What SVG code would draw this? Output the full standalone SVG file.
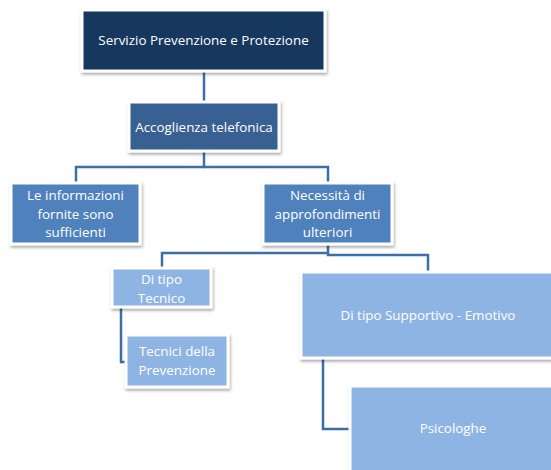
<svg xmlns="http://www.w3.org/2000/svg" width="551" height="470" viewBox="0 0 551 470">
<style>
.box{stroke:#ffffff;stroke-width:3;filter:url(#sh)}
.t{font-family:"Open Sans","Liberation Sans",sans-serif;font-size:13.4px;fill:#ffffff;text-anchor:middle;dominant-baseline:central}
.c{fill:none;stroke:#3e6ea6;stroke-width:2.5}
</style>
<defs>
<filter id="sh" x="-10%" y="-10%" width="130%" height="140%">
<feDropShadow dx="1" dy="2" stdDeviation="1.5" flood-color="#000" flood-opacity="0.35"/>
</filter>
</defs>
<rect width="551" height="470" fill="#ffffff"/>
<g id="connectors">
<path class="c" d="M204 71 V102"/>
<path class="c" d="M204 151 V167 H76 V183"/>
<path class="c" d="M204 167 H328 V183"/>
<path class="c" d="M328 244 V253 H162 V268"/>
<path class="c" d="M328 253 V255 H428 V272"/>
<path class="c" d="M121 307 V362 H126"/>
<path class="c" d="M323 358 V429 H350"/>
</g>
<g id="n1"><rect class="box" x="82" y="10" width="243" height="61" fill="#17375e"/><text class="t" x="203.5" y="40">Servizio Prevenzione e Protezione</text></g>
<g id="n2"><rect class="box" x="129" y="102" width="150" height="49" fill="#376092"/><text class="t" x="204" y="127">Accoglienza telefonica</text></g>
<g id="n3"><rect class="box" x="11" y="183" width="129" height="61" fill="#4f81bd"/><text class="t" x="75.5" y="195">Le informazioni</text><text class="t" x="75.5" y="213.5">fornite sono</text><text class="t" x="75.5" y="232">sufficienti</text></g>
<g id="n4"><rect class="box" x="263" y="183" width="129" height="61" fill="#4f81bd"/><text class="t" x="327.5" y="195">Necessità di</text><text class="t" x="327.5" y="213.5">approfondimenti</text><text class="t" x="327.5" y="232">ulteriori</text></g>
<g id="n5"><rect class="box" x="112" y="268" width="99" height="39" fill="#8eb4e3"/><text class="t" x="161.5" y="278.5">Di tipo</text><text class="t" x="161.5" y="297.5">Tecnico</text></g>
<g id="n6"><rect class="box" x="126" y="335" width="102" height="52" fill="#8eb4e3"/><text class="t" x="177" y="350.5">Tecnici della</text><text class="t" x="177" y="369.5">Prevenzione</text></g>
<g id="n7"><rect class="box" x="301" y="272" width="256" height="86" fill="#8eb4e3"/><text class="t" x="428" y="315">Di tipo Supportivo - Emotivo</text></g>
<g id="n8"><rect class="box" x="350" y="386" width="208" height="90" fill="#8eb4e3"/><text class="t" x="453" y="428">Psicologhe</text></g>
</svg>
